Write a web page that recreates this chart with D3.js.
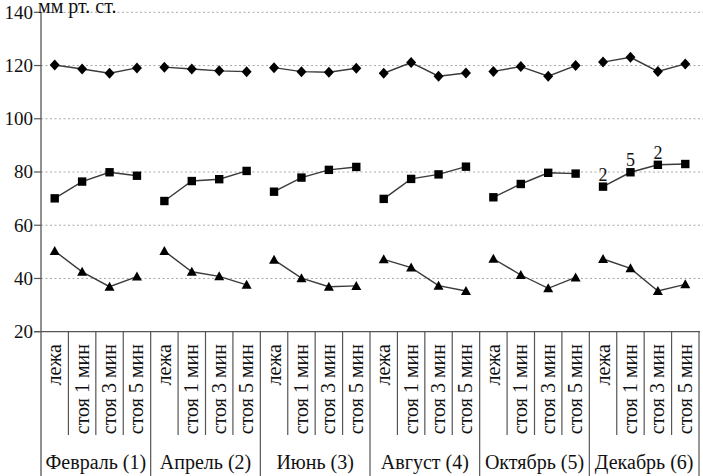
<!DOCTYPE html>
<html><head><meta charset="utf-8">
<script src="https://cdn.jsdelivr.net/npm/d3@7"></script>
</head><body style="margin:0"><svg id="c" width="703" height="476"></svg>
<script>
const months = ["Февраль (1)", "Апрель (2)", "Июнь (3)", "Август (4)", "Октябрь (5)", "Декабрь (6)"];
const positions = ["лежа", "стоя 1 мин", "стоя 3 мин", "стоя 5 мин"];
const yTicks = [20, 40, 60, 80, 100, 120, 140];
const yLabel = "мм рт. ст.";
// systolic (diamonds)
const systolic = [120.2, 118.7, 117.1, 119.1, 119.4, 118.7, 118.0, 117.7, 119.2, 117.7, 117.5, 119.0,
                  117.1, 121.1, 116.0, 117.2, 117.8, 119.6, 116.0, 120.0, 121.3, 123.1, 117.8, 120.6];
// mean (squares)
const meanP = [70.1, 76.4, 79.9, 78.6, 69.1, 76.6, 77.3, 80.4, 72.6, 77.9, 80.8, 81.9,
               69.9, 77.4, 79.1, 82.0, 70.5, 75.5, 79.7, 79.4, 74.5, 79.9, 82.7, 83.0];
// diastolic (triangles)
const diastolic = [50.3, 42.5, 36.9, 40.7, 50.3, 42.5, 40.8, 37.6, 47.0, 40.1, 36.9, 37.2,
                   47.2, 44.1, 37.3, 35.3, 47.4, 41.3, 36.3, 40.4, 47.3, 43.8, 35.3, 37.8];
const annotIdx = [20, 21, 22];
const annotText = ["2", "5", "2"];

const svg = d3.select("#c");
const W = 703, H = 476;
const x0 = 41, x1 = 699, yTop = 12.3, yBot = 331.7;
const cats = d3.range(months.length * positions.length);
const x = d3.scaleBand().domain(cats).range([x0, x1]).padding(0);
const y = d3.scaleLinear().domain([20, 140]).range([yBot, yTop]);
const cx = i => x(i) + x.bandwidth() / 2;
const serif = "Liberation Serif";

// gridlines
svg.append("g").selectAll("line").data(yTicks.filter(t => t > 20)).join("line")
  .attr("x1", x0).attr("x2", W).attr("y1", d => y(d)).attr("y2", d => y(d))
  .attr("stroke", "#a8a8a8").attr("stroke-width", 1).attr("stroke-dasharray", "2,2.5");

// y axis (ticks drawn via scale)
const tg = svg.append("g").selectAll("g").data(yTicks).join("g")
  .attr("transform", d => `translate(${x0},${y(d)})`);
tg.append("line").attr("x1", -7).attr("x2", 0).attr("stroke", "#555").attr("stroke-width", 1.2);
tg.append("text").attr("x", -8).attr("dy", "0.33em").attr("text-anchor", "end")
  .attr("font-family", serif).attr("font-size", 19).attr("fill", "#111").text(d => d);
svg.append("line").attr("x1", x0).attr("x2", x0).attr("y1", yTop).attr("y2", H)
  .attr("stroke", "#555").attr("stroke-width", 1.3);
// x axis line
svg.append("line").attr("x1", x0 - 7).attr("x2", x1 + 1).attr("y1", yBot).attr("y2", yBot)
  .attr("stroke", "#555").attr("stroke-width", 1.3);

// category separators
svg.append("g").selectAll("line").data(cats.slice(1).concat([cats.length])).join("line")
  .attr("x1", d => d < cats.length ? x(d) : x1).attr("x2", d => d < cats.length ? x(d) : x1)
  .attr("y1", yBot)
  .attr("y2", d => d % positions.length === 0 ? H : 435)
  .attr("stroke", "#555").attr("stroke-width", 1.2);

// rotated position labels
svg.append("g").selectAll("text").data(cats).join("text")
  .attr("transform", d => `translate(${cx(d) + 6.5},344) rotate(-90)`)
  .attr("text-anchor", "end")
  .attr("font-family", serif).attr("font-size", 20).attr("fill", "#111")
  .text(d => positions[d % positions.length]);

// month labels
svg.append("g").selectAll("text").data(months).join("text")
  .attr("x", (d, i) => (x(i * 4) + x(i * 4 + 3) + x.bandwidth()) / 2)
  .attr("y", 469).attr("text-anchor", "middle")
  .attr("font-family", serif).attr("font-size", 20).attr("fill", "#111")
  .text(d => d);

// y label
svg.append("text").attr("x", 38).attr("y", 13)
  .attr("font-family", serif).attr("font-size", 20).attr("fill", "#111").text(yLabel);

// series
const series = [
  {data: systolic, shape: "diamond"},
  {data: meanP, shape: "square"},
  {data: diastolic, shape: "triangle"}
];
const shapePath = {
  diamond: "M0,-5.5L5,0L0,5.5L-5,0Z",
  square: "M-4.2,-4.2H4.2V4.2H-4.2Z",
  triangle: "M0,-5L5,4H-5Z"
};
series.forEach(s => {
  for (let g = 0; g < months.length; g++) {
    const idx = d3.range(g * 4, g * 4 + 4);
    svg.append("path").datum(idx)
      .attr("d", d3.line().x(i => cx(i)).y(i => y(s.data[i])))
      .attr("fill", "none").attr("stroke", "#3a3a3a").attr("stroke-width", 1.4);
  }
  svg.append("g").selectAll("path").data(cats).join("path")
    .attr("transform", i => `translate(${cx(i)},${y(s.data[i])})`)
    .attr("d", shapePath[s.shape]).attr("fill", "#000");
});

// annotations
svg.append("g").selectAll("text").data(annotIdx).join("text")
  .attr("x", i => cx(i)).attr("y", i => y(meanP[i]) - 6)
  .attr("text-anchor", "middle")
  .attr("font-family", serif).attr("font-size", 18).attr("fill", "#111")
  .text((i, k) => annotText[k]);
</script></body></html>
